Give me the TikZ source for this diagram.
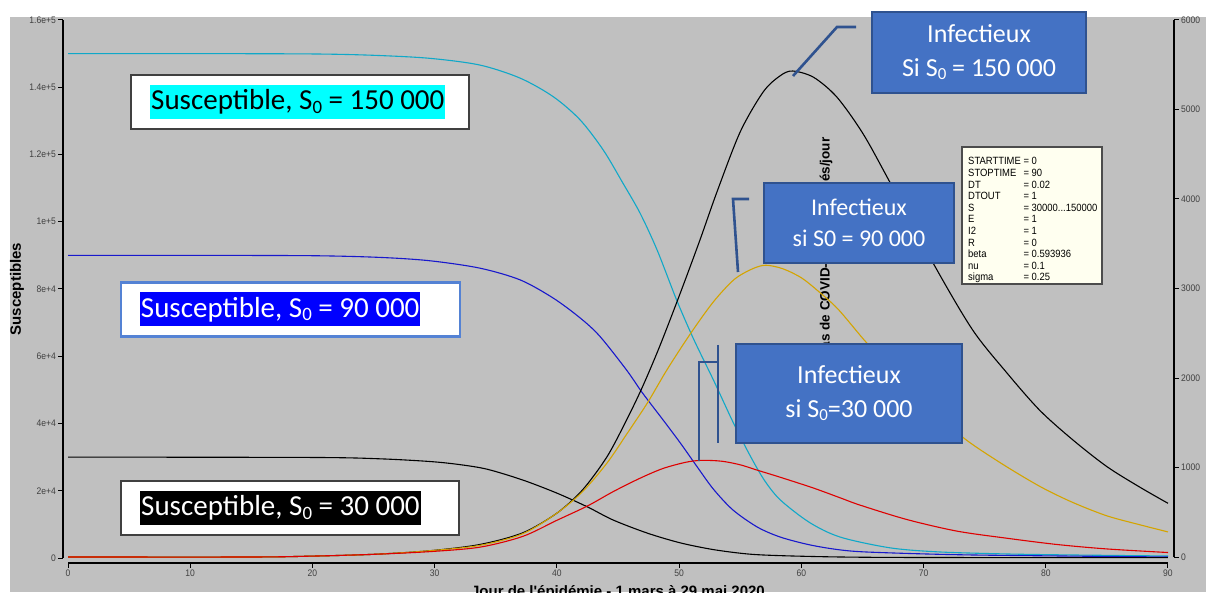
\documentclass[tikz,border=0pt]{standalone}
\usepackage{fontspec}
\usepackage{graphicx}
\setmainfont{Carlito}
\newfontfamily\axisfont{Liberation Sans}
\newfontfamily\pixfont[FakeStretch=0.9]{Liberation Sans}
\usetikzlibrary{positioning}

\definecolor{plotbg}{RGB}{192,192,192}
\definecolor{scyan}{RGB}{16,168,200}
\definecolor{sblue}{RGB}{24,24,204}
\definecolor{igold}{RGB}{212,164,0}
\definecolor{ired}{RGB}{222,0,0}
\definecolor{boxblue}{RGB}{68,114,196}
\definecolor{boxedge}{RGB}{47,82,143}
\definecolor{edgeblue}{RGB}{84,130,212}
\definecolor{paramfill}{RGB}{255,255,240}
\definecolor{purecyan}{RGB}{0,255,255}
\definecolor{pureblue}{RGB}{0,0,255}

\newcommand{\lowsub}[1]{\raisebox{-0.12em}{\scalebox{0.65}{#1}}}

\begin{document}
\begin{tikzpicture}[x=1pt,y=1pt,
    curve/.style={line width=1.1pt},
    susbox/.style={draw=black!75,line width=2pt,fill=white,minimum height=54pt},
    hilite/.style={anchor=west,inner xsep=1pt,inner ysep=0pt,minimum height=34pt,font=\fontsize{29}{35}\selectfont},
    infbox/.style={draw=boxedge,line width=2pt,fill=boxblue,text=white,align=center,font=\fontsize{26}{34}\selectfont},
    callout/.style={draw=boxedge,line width=2.6pt},
    ticklab/.style={font=\pixfont\fontsize{9.5}{10}\selectfont,text=black!75,inner sep=1pt},
    axtitle/.style={font=\axisfont\bfseries\fontsize{15}{18}\selectfont}]

    \useasboundingbox (0,0) rectangle (1206,592);
    \fill[plotbg] (10,0) rectangle (1206,575);

    % left axis (susceptibles)
    \draw[line width=1.2pt] (63,34) -- (63,572);
    \foreach \k/\lab in {0/0,1/2e+4,2/4e+4,3/6e+4,4/8e+4,5/1e+5,6/1.2e+5,7/1.4e+5,8/1.6e+5} {
        \draw[line width=1pt] (58,{34+67.25*\k}) -- (63,{34+67.25*\k});
        \node[ticklab,anchor=east] (yl\k) at (57,{34+67.25*\k}) {\lab};
    }

    % right axis
    \draw[line width=1.2pt] (1174,35) -- (1174,572);
    \foreach \k/\lab in {0/0,1/1000,2/2000,3/3000,4/4000,5/5000,6/6000} {
        \draw[line width=1pt] (1174,{35+89.5*\k}) -- (1179,{35+89.5*\k});
        \node[ticklab,anchor=west] (yr\k) at (1180,{35+89.5*\k}) {\lab};
    }

    % time axis
    \draw[line width=1.2pt] (68,29) -- (1168,29);
    \foreach \k/\lab in {0/0,1/10,2/20,3/30,4/40,5/50,6/60,7/70,8/80,9/90} {
        \draw[line width=1pt] ({68+122.22*\k},29) -- ({68+122.22*\k},24);
        \node[ticklab,anchor=north] (xl\k) at ({68+122.22*\k},23) {\lab};
    }

    \node[axtitle,rotate=90] (ytitle) at (17,303) {Susceptibles};
    \node[axtitle,anchor=base] (xtitle) at (618,-4) {Jour de l'épidémie - 1 mars à 29 mai 2020};
    \node[font=\axisfont\bfseries\fontsize{13.5}{16}\selectfont,rotate=90,anchor=east] (ytitleR) at (826,458) {Nouveaux cas de COVID-19 hospitalisés/jour};

    % S curves, unit = 10 000
    \begin{scope}[shift={(68,34)},x=12.222pt,y=33.625pt]
        \draw[curve,scyan] plot[smooth,tension=0.5] coordinates {(0,15) (10,15) (20,14.99) (25,14.95) (29.6,14.86) (33.7,14.66) (37,14.27) (39.7,13.72) (41.9,13.03) (43.8,12.13) (45.4,11.15) (46.8,10.26) (48.2,9.16) (49.8,7.67) (51.2,6.5) (52.8,5.3) (54.4,4.05) (55.8,3.05) (57,2.3) (58.3,1.72) (60.7,1.05) (63.2,0.62) (67.3,0.3) (71.3,0.18) (76.8,0.12) (82.2,0.09) (90,0.06)};
        \draw[curve,sblue] plot[smooth,tension=0.5] coordinates {(0,9) (10,9) (20,8.99) (25.5,8.94) (29.6,8.84) (33.7,8.62) (37,8.27) (39.7,7.73) (41.9,7.14) (43.5,6.6) (45.7,5.59) (47,4.91) (48.7,4.1) (50.1,3.42) (51.5,2.7) (52.8,2.05) (54.4,1.43) (56.4,0.92) (58.3,0.62) (60.7,0.39) (63.2,0.24) (65.9,0.17) (74,0.09) (90,0.03)};
        \draw[curve,black] plot[smooth,tension=0.5] coordinates {(0,3) (20,2.99) (25.5,2.95) (29.6,2.87) (32,2.78) (34.3,2.64) (37.2,2.32) (40,1.93) (42.5,1.52) (44.6,1.13) (47.4,0.74) (50.1,0.45) (52.8,0.25) (55.6,0.12) (58.3,0.07) (63.2,0.03) (70,0.015) (90,0.01)};
    \end{scope}

    % infectious curves, unit = 1000
    \begin{scope}[shift={(68,35)},x=12.222pt,y=89.5pt]
        \draw[curve,black] plot[smooth,tension=0.5] coordinates {(0,0) (15,0) (20,0.01) (25,0.03) (29.6,0.07) (33.7,0.14) (37.2,0.27) (40,0.49) (42.1,0.75) (44.1,1.12) (45.7,1.53) (47,1.9) (48.4,2.35) (50.1,2.95) (51.7,3.54) (53.1,4.08) (55,4.75) (56.9,5.2) (58.3,5.38) (59.3,5.43) (61,5.36) (62.9,5.14) (65,4.74) (67,4.25) (70.8,3.28) (74,2.54) (76.8,2.06) (79.5,1.64) (82.2,1.31) (85,1.01) (87.7,0.78) (90,0.6)};
        \draw[curve,igold] plot[smooth,tension=0.5] coordinates {(0,0) (15,0) (20,0.01) (25,0.03) (29.6,0.07) (33.7,0.13) (37.2,0.26) (40,0.49) (42.1,0.73) (44.1,1.05) (45.7,1.37) (47.4,1.72) (49,2.09) (50.9,2.49) (52.8,2.85) (54.5,3.1) (56,3.22) (57.1,3.26) (58.5,3.22) (60,3.12) (61.3,2.98) (63,2.77) (65.3,2.4) (67,2.17) (70,1.75) (73.1,1.35) (76.2,1.06) (79.5,0.79) (82.2,0.61) (85,0.46) (87.7,0.36) (90,0.28)};
        \draw[curve,ired] plot[smooth,tension=0.5] coordinates {(0,0) (15,0) (20,0.01) (25,0.03) (29.6,0.06) (33.7,0.11) (37.2,0.23) (40,0.41) (42.5,0.57) (44.6,0.73) (46.8,0.88) (48.7,0.99) (50.6,1.06) (51.9,1.08) (53.5,1.07) (55,1.03) (56.4,0.97) (58.3,0.89) (61,0.77) (63.2,0.66) (64.8,0.58) (68.6,0.42) (72.7,0.29) (76.8,0.21) (80.9,0.14) (85,0.09) (90,0.05)};
    \end{scope}

    % susceptible labels
    \node[susbox,minimum width=338pt] (s150) at (300,490) {};
    \node[hilite,fill=purecyan] (s150txt) at ([xshift=20pt]s150.west) {Susceptible, S\lowsub{0} = 150 000};
    \node[susbox,draw=edgeblue,line width=2.5pt,minimum width=339pt] (s90) at (290.5,282.5) {};
    \node[hilite,fill=pureblue,text=white] (s90txt) at ([xshift=20pt]s90.west) {Susceptible, S\lowsub{0} = 90 000};
    \node[susbox,minimum width=338pt] (s30) at (290,84) {};
    \node[hilite,fill=black,text=white] (s30txt) at ([xshift=20pt]s30.west) {Susceptible, S\lowsub{0} = 30 000};

    % infectious labels
    \node[infbox,minimum width=214pt,minimum height=81pt] (i150) at (979,539.5) {Infectieux\\Si S\lowsub{0} = 150 000};
    \node[infbox,minimum width=190pt,minimum height=80pt,font=\fontsize{24}{31}\selectfont] (i90) at (859,369) {Infectieux\\si S0 = 90 000};
    \node[infbox,minimum width=226pt,minimum height=99pt] (i30) at (849,198.5) {Infectieux\\si S\lowsub{0}=30 000};

    % callout lines
    \coordinate (cA0) at (856,565);
    \coordinate (cA1) at (837,565);
    \coordinate (pk150) at (793,516);
    \draw[callout] (cA0) -- (cA1) -- (pk150);
    \coordinate (cB0) at (749,393);
    \coordinate (cB1) at (733,393);
    \coordinate (pk90) at (738,320);
    \draw[callout] (cB0) -- (cB1) -- (pk90);
    \coordinate (cC0) at (718,247);
    \coordinate (cC1) at (718,149);
    \coordinate (cC2) at (718,230);
    \coordinate (cC3) at (699,230);
    \coordinate (pk30) at (699,131);
    \draw[callout] (cC0) -- (cC1);
    \draw[callout] (cC2) -- (cC3) -- (pk30);

    % model parameters
    \node[draw=black!70,line width=1.2pt,fill=paramfill,minimum width=140pt,minimum height=137pt] (params) at (1032,376.5) {};
    \node[anchor=north west,inner sep=0pt,font=\pixfont\fontsize{10.5}{11.6}\selectfont] (paramtxt) at (968,435.5) {%
        \begin{tabular}{@{}l@{ }l@{}}
            STARTTIME & = 0\\
            STOPTIME & = 90\\
            DT & = 0.02\\
            DTOUT & = 1\\
            S & = 30000...150000\\
            E & = 1\\
            I2 & = 1\\
            R & = 0\\
            beta & = 0.593936\\
            nu & = 0.1\\
            sigma & = 0.25
        \end{tabular}};
\end{tikzpicture}
\end{document}
